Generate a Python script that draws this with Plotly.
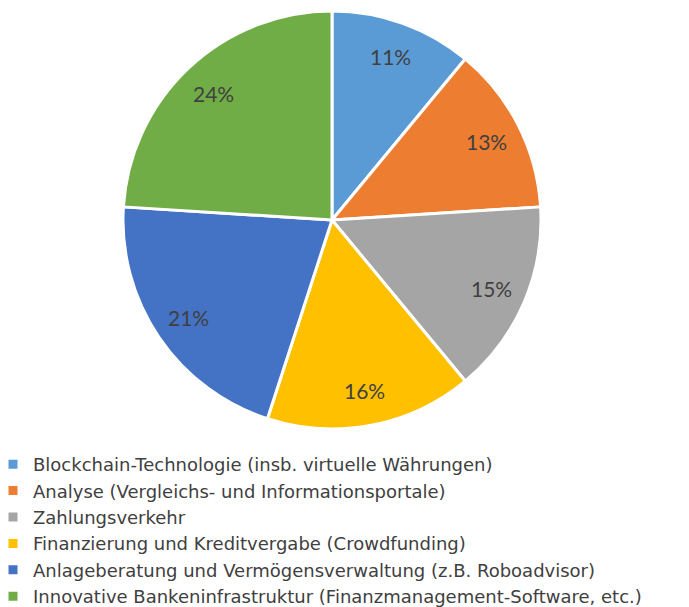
import math
import plotly.graph_objects as go

labels = [
    "Blockchain-Technologie (insb. virtuelle Währungen)",
    "Analyse (Vergleichs- und Informationsportale)",
    "Zahlungsverkehr",
    "Finanzierung und Kreditvergabe (Crowdfunding)",
    "Anlageberatung und Vermögensverwaltung (z.B. Roboadvisor)",
    "Innovative Bankeninfrastruktur (Finanzmanagement-Software, etc.)",
]
values = [11, 13, 15, 16, 21, 24]
colors = ["#5B9BD5", "#ED7D31", "#A5A5A5", "#FFC000", "#4472C4", "#70AD47"]

OFF = 8  # page body margin
W, H = 689 - OFF, 607 - OFF
cx, cy, R = 332 - OFF, 220 - OFF, 209  # pixel layout of the pie
dom_x = [(cx - R) / W, (cx + R) / W]
dom_y = [1 - (cy + R) / H, 1 - (cy - R) / H]

fig = go.Figure(go.Pie(
    labels=labels,
    values=values,
    sort=False,
    direction="clockwise",
    rotation=0,
    marker=dict(colors=colors, line=dict(color="white", width=3)),
    textinfo="none",
    hoverinfo="label+percent",
    domain=dict(x=dom_x, y=dom_y),
))

# percentage labels placed along each slice's mid-angle
total = sum(values)
cum = 0
pcx = (dom_x[0] + dom_x[1]) / 2
pcy = (dom_y[0] + dom_y[1]) / 2
for v in values:
    mid = (cum + v / 2) / total * 2 * math.pi
    cum += v
    rr = 0.83 * R
    fig.add_annotation(
        x=pcx + rr * math.sin(mid) / W,
        y=pcy + rr * math.cos(mid) / H,
        xref="paper", yref="paper",
        xanchor="center", yanchor="middle",
        text=f"{round(v / total * 100)}%",
        showarrow=False,
        font=dict(family="Lato", size=21, color="#404040"),
    )

fig.update_layout(
    width=W, height=H,
    margin=dict(l=0, r=0, t=0, b=0, autoexpand=False),
    paper_bgcolor="white",
    plot_bgcolor="white",
    showlegend=True,
    legend=dict(
        x=-15 / W, y=1 - 438 / H,
        xanchor="left", yanchor="top",
        font=dict(family="DejaVu Sans", size=18, color="#404040"),
        bgcolor="rgba(0,0,0,0)",
        traceorder="normal",
    ),
)

fig.write_html("out.html")
